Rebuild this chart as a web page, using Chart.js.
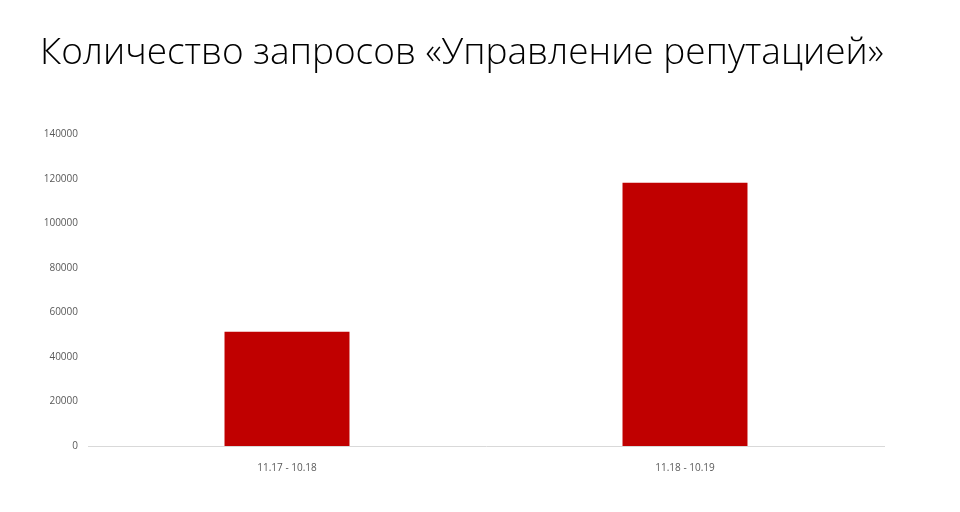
<!DOCTYPE html>
<html>
<head>
<meta charset="utf-8">
<script src="https://cdn.jsdelivr.net/npm/chart.js@4"></script>
<style>
  html, body { margin: 0; padding: 0; background: #fff; }
  #wrap { width: 960px; height: 512px; }
</style>
</head>
<body>
<div id="wrap"><canvas id="grafico"></canvas></div>
<script>
const categories = ['11.17 - 10.18', '11.18 - 10.19'];
const requests = [51300, 118300];
const titleText = 'Количество запросов «Управление репутацией»';

const config = {
    type: 'bar',
    data: {
        labels: categories,
        datasets: [{
            label: 'Запросы',
            data: requests,
            backgroundColor: '#c00000',
            barPercentage: 0.314,
            categoryPercentage: 1
        }]
    },
    options: {
        responsive: true,
        maintainAspectRatio: false,
        animation: false,
        layout: { padding: { left: 40, right: 76, top: 0, bottom: 30 } },
        plugins: {
            legend: { display: false },
            tooltip: { enabled: false },
            title: {
                display: true,
                text: titleText,
                align: 'start',
                color: '#000',
                font: { family: 'Open Sans', size: 37, weight: '300' },
                padding: { top: 31, bottom: 59 }
            }
        },
        scales: {
            x: {
                grid: { display: false },
                border: { color: '#d9d9d9', width: 1 },
                ticks: { color: '#595959', font: { family: 'Open Sans', size: 10 }, padding: 8 }
            },
            y: {
                min: 0,
                max: 140000,
                grid: { display: false, drawTicks: false },
                border: { display: false },
                ticks: {
                    stepSize: 20000,
                    color: '#595959',
                    font: { family: 'Open Sans', size: 10 },
                    padding: 10,
                    callback: function(value) { return String(value); } // без разделителей тысяч
                },
                afterFit: function(scale) { scale.width = 48; }
            }
        }
    }
};

const ctx = document.getElementById('grafico').getContext('2d');
new Chart(ctx, config);
</script>
</body>
</html>
